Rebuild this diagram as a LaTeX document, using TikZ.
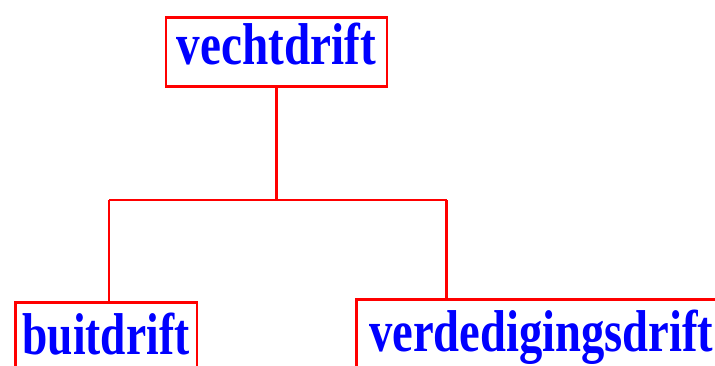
\documentclass[tikz,border=0pt]{standalone}
\usepackage{fontspec}
\setmainfont{Liberation Serif}
\begin{document}
\begin{tikzpicture}[x=1pt,y=-1pt,
  box/.style={draw=red, line width=2.5pt, inner sep=0pt, text=blue,
    font=\bfseries\fontsize{59}{60}\selectfont, anchor=north west},
  link/.style={draw=red, line width=2.5pt}]
\useasboundingbox (0,0) rectangle (715,365);
\clip (0,0) rectangle (715,365);
\node[box, minimum width=221pt, text height=47pt, text depth=22pt] (top) at (164.7,16) {\scalebox{0.8}[1]{vechtdrift}};
\node[box, minimum width=181.5pt, text height=52pt, text depth=24pt] (left) at (14,301) {\scalebox{0.77}[1]{buitdrift}};
\node[box, minimum width=370pt, text height=52pt, text depth=24pt] (right) at (355,298) {\scalebox{0.79}[1]{verdedigingsdrift}};
\coordinate (mid) at (276.7,200);
\coordinate (jl) at (109,200);
\coordinate (jr) at (446.7,200);
\draw[link] (mid |- top.south) -- (mid);
\draw[link] (jl) -- (jr);
\draw[link] (jl) -- (jl |- left.north);
\draw[link] (jr) -- (jr |- right.north);
\end{tikzpicture}
\end{document}
